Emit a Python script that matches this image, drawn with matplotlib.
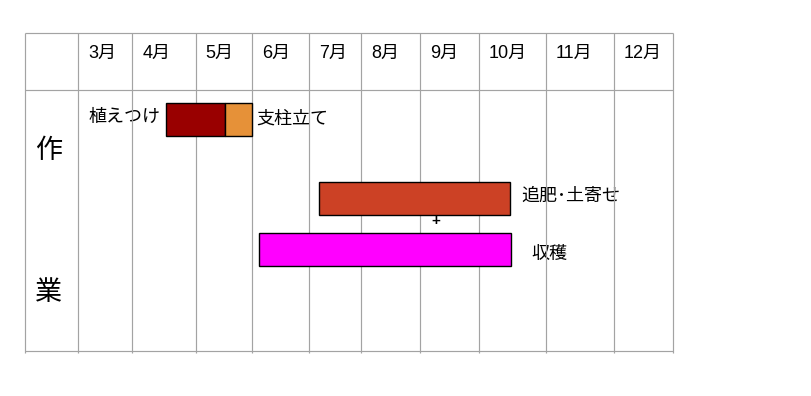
import numpy as np
import matplotlib
matplotlib.use("Agg")
import matplotlib.pyplot as plt
import matplotlib.transforms as mtransforms

plt.rcParams['font.family'] = ['Liberation Sans', 'Noto Sans CJK JP', 'DejaVu Sans']

# ---- data ----
months = [3, 4, 5, 6, 7, 8, 9, 10, 11, 12]
month_labels = [f"{m}月" for m in months]
tasks = ["植えつけ", "支柱立て", "追肥･土寄せ", "収穫"]
task_start = [4.54, 5.52, 7.19, 6.12]
task_end = [5.52, 6.0, 10.46, 10.48]
task_row = [0, 0, 1, 2]
task_colors = ["#990000", "#E69138", "#CC4125", "#FF00FF"]
row_title = ["作", "業"]

# ---- layout ----
W, H = 811, 396
fig = plt.figure(figsize=(W / 100, H / 100), dpi=100)
x0, x1, y0, y1 = 25, 673, 33, 351
ax = fig.add_axes([x0 / W, 1 - y1 / H, (x1 - x0) / W, (y1 - y0) / H])

# uneven column widths: month boundary -> pixel position
bound_m = np.arange(2, 14)
bound_px = np.array([25, 78.3, 132.3, 195.7, 252.5, 309.3, 361.3, 420.3, 479.3, 546.3, 614.3, 673.3])

def fwd(v):
    return np.interp(v, bound_m, bound_px)

def inv(v):
    return np.interp(v, bound_px, bound_m)

ax.set_xscale('function', functions=(fwd, inv))
ax.set_xlim(2, 13)
ax.set_ylim(351, 33)
ax.axis('off')

grid_c = "#a3a3a3"
for m in bound_m:
    ax.plot([m, m], [33, 352.5], color=grid_c, lw=0.85, clip_on=False,
            solid_capstyle='butt', zorder=2)
for yy in [33, 90, 351]:
    ax.plot([1.98, 13], [yy, yy], color=grid_c, lw=0.85, clip_on=False,
            solid_capstyle='butt', zorder=2)

fs = 13
off10 = mtransforms.offset_copy(ax.transData, fig=fig, x=10, y=0, units='dots')
for m, lab in zip(months, month_labels):
    ax.text(m, 53, lab, transform=off10, ha='left', va='center', fontsize=fs, zorder=1)

row_center = [119, 198, 249]
bar_h = 33
for name, s, e, r, c in zip(tasks, task_start, task_end, task_row, task_colors):
    ax.barh(row_center[r], e - s, left=s, height=bar_h, color=c, edgecolor='black',
            linewidth=1.0, zorder=3)

# task labels
lab_offsets = [-6, 4, 11, 20]
lab_dy = [-2, 0, -2, 5]
for name, s, e, r, dx, dy in zip(tasks, task_start, task_end, task_row, lab_offsets, lab_dy):
    tr = mtransforms.offset_copy(ax.transData, fig=fig, x=dx, y=-dy, units='dots')
    if dx < 0:
        ax.text(s, row_center[r], name, transform=tr, ha='right', va='center',
                fontsize=fs, zorder=1)
    else:
        ax.text(e, row_center[r], name, transform=tr, ha='left', va='center',
                fontsize=fs, zorder=1)

ax.text(9.26, 221, "+", ha='center', va='center', fontsize=11, fontweight='bold', zorder=1)

ax.text(2.45, 151, row_title[0], ha='center', va='center', fontsize=19.5, zorder=1)
ax.text(2.45, 293, row_title[1], ha='center', va='center', fontsize=19.5, zorder=1)

fig.savefig("out.png", dpi=100, facecolor='white')
